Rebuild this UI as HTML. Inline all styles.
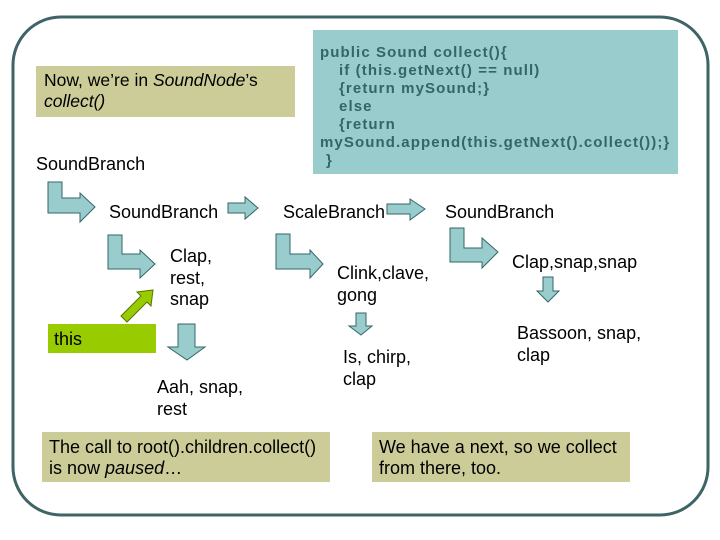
<!DOCTYPE html>
<html><head><meta charset="utf-8"><style>
html,body{margin:0;padding:0;background:#fff;}
svg{display:block;}
text{font-family:"Liberation Sans",Arial,sans-serif;font-size:18px;fill:#000;}
.code{font-weight:bold;font-size:15px;fill:#336666;letter-spacing:1.1px;}
</style></head><body>
<svg width="720" height="540" viewBox="0 0 720 540" xmlns="http://www.w3.org/2000/svg">
<rect x="13" y="17" width="695" height="498" rx="48" ry="48" fill="none" stroke="#3f6466" stroke-width="3"/>
<!-- boxes -->
<rect x="36" y="66" width="259" height="51" fill="#cccc99"/>
<rect x="313" y="30" width="365" height="144" fill="#99cccc"/>
<rect x="42" y="432" width="288" height="50" fill="#cccc99"/>
<rect x="372" y="432" width="258" height="50" fill="#cccc99"/>
<rect x="48" y="324" width="108" height="29" fill="#99cc00"/>
<!-- code -->
<text class="code" x="320" y="57">public Sound collect(){</text>
<text class="code" x="339" y="75">if (this.getNext() == null)</text>
<text class="code" x="339" y="93">{return mySound;}</text>
<text class="code" x="339" y="111">else</text>
<text class="code" x="339" y="129">{return</text>
<text class="code" x="320" y="147">mySound.append(this.getNext().collect());}</text>
<text class="code" x="326" y="165">}</text>
<!-- arrows -->
<g fill="#99cccc" stroke="#336666" stroke-width="1">
<path d="M48,182 H62 V198 H80 V193 L95,207 L80,222 V213 H48 Z"/>
<path d="M108,235 H122 V254 H140 V250 L155,264 L140,278 V269 H108 Z"/>
<path d="M276,234 H290 V254 H310 V250 L323,264 L310,278 V269 H276 Z"/>
<path d="M450,228 H464 V248 H482 V238 L498,252 L482,268 V262 H450 Z"/>
<path d="M228,203 H245 V197 L258,208 L245,219 V213 H228 Z"/>
<path d="M387,204 H410 V199 L425,209 L410,220 V214 H387 Z"/>
<path d="M178,324 H195 V347 H205 L187,360 L168,347 H178 Z"/>
<path d="M356,313 H366 V326 H372 L361,335 L349,326 H356 Z"/>
<path d="M543,277 H553 V291 H559 L548,302 L537,291 H543 Z"/>
</g>
<path d="M121,316 L141,296 L137,292 L153,290 L151,306 L147,302 L127,322 Z" fill="#99cc00" stroke="#557700" stroke-width="1"/>
<!-- labels -->
<text x="44" y="86" style="font-size:17.5px">Now, we’re in <tspan font-style="italic">SoundNode</tspan>’s</text>
<text x="44" y="107" style="font-size:17.5px" font-style="italic">collect()</text>
<text x="36" y="170">SoundBranch</text>
<text x="109" y="218">SoundBranch</text>
<text x="283" y="218">ScaleBranch</text>
<text x="445" y="218">SoundBranch</text>
<text x="170" y="262">Clap,</text>
<text x="170" y="284">rest,</text>
<text x="170" y="305">snap</text>
<text x="337" y="279">Clink,clave,</text>
<text x="337" y="301">gong</text>
<text x="512" y="268">Clap,snap,snap</text>
<text x="517" y="339">Bassoon, snap,</text>
<text x="517" y="361">clap</text>
<text x="343" y="363">Is, chirp,</text>
<text x="343" y="385">clap</text>
<text x="157" y="393">Aah, snap,</text>
<text x="157" y="415">rest</text>
<text x="54" y="345">this</text>
<text x="49" y="453">The call to root().children.collect()</text>
<text x="49" y="474">is now <tspan font-style="italic">paused</tspan>…</text>
<text x="379" y="453">We have a next, so we collect</text>
<text x="379" y="474">from there, too.</text>
</svg>
</body></html>
